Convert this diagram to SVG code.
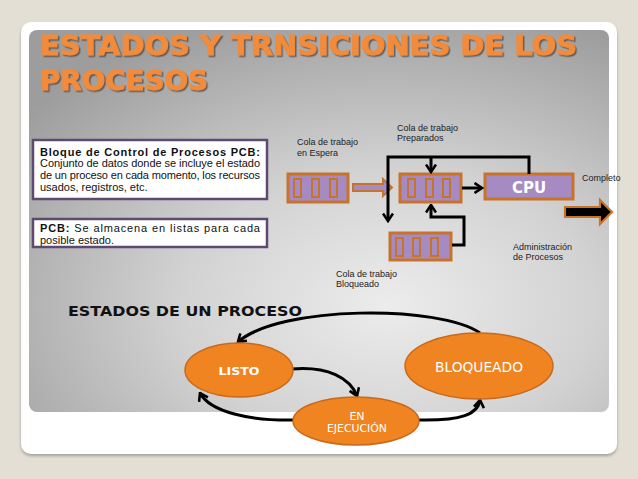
<svg xmlns="http://www.w3.org/2000/svg" width="638" height="479" viewBox="0 0 638 479">
<defs>
<style>
.q{fill:#a68bc2;stroke:#c8732a;stroke-width:3}
.s{fill:#a68bc2;stroke:#c8732a;stroke-width:2}
.lbl{font-family:"Liberation Sans",Arial,sans-serif;font-size:9px;fill:#222}
.box{fill:#fff;stroke:#5e4a70;stroke-width:2.5}
.bt{font-family:"Liberation Sans",Arial,sans-serif;font-size:11px;fill:#111}
.ln{fill:none;stroke:#000;stroke-width:3}
.ell{fill:#ef8421;stroke:#c9691c;stroke-width:1.5}
.et{font-family:"DejaVu Sans",Verdana,sans-serif;fill:#fff;text-anchor:middle}
.title{font-family:"DejaVu Sans",Verdana,sans-serif;font-weight:bold;font-size:27px;fill:#f28b3a;stroke:#f28b3a;stroke-width:0.9}
</style>
<radialGradient id="bg" cx="0.62" cy="0.72" r="0.8">
<stop offset="0" stop-color="#ececec"/>
<stop offset="0.45" stop-color="#d2d2d2"/>
<stop offset="1" stop-color="#9d9d9d"/>
</radialGradient>
<filter id="sh" x="-5%" y="-5%" width="110%" height="110%">
<feDropShadow dx="1.5" dy="1.5" stdDeviation="0.6" flood-color="#4a3a30" flood-opacity="0.7"/>
</filter>
<filter id="fsh" x="-5%" y="-5%" width="110%" height="115%">
<feDropShadow dx="0" dy="2" stdDeviation="1.5" flood-color="#777" flood-opacity="0.6"/>
</filter>
<marker id="ch" viewBox="0 0 10 12" refX="8.5" refY="6" markerWidth="10" markerHeight="12" markerUnits="userSpaceOnUse" orient="auto">
<path d="M1,1 L8.5,6 L1,11" fill="none" stroke="#000" stroke-width="2.6"/>
</marker>
</defs>

<rect width="638" height="479" fill="#e4dfd4"/>
<g id="frame">
<rect x="21" y="22" width="596" height="432" rx="10" fill="#fff" filter="url(#fsh)"/>
<rect x="29" y="30" width="580" height="382" rx="8" fill="url(#bg)"/>
</g>

<g id="title" filter="url(#sh)">
<text class="title" x="40" y="55" textLength="537" lengthAdjust="spacingAndGlyphs">ESTADOS Y TRNSICIONES DE LOS</text>
<text class="title" x="40" y="90" textLength="168" lengthAdjust="spacingAndGlyphs">PROCESOS</text>
</g>

<g id="pcb-box">
<rect class="box" x="33" y="140" width="234" height="59"/>
<text class="bt" x="40" y="155.5" font-weight="bold" textLength="220" lengthAdjust="spacing">Bloque de Control de Procesos PCB:</text>
<text class="bt" x="40" y="167" textLength="220" lengthAdjust="spacing">Conjunto de datos donde se incluye el estado</text>
<text class="bt" x="40" y="179" textLength="220" lengthAdjust="spacing">de un proceso en cada momento, los recursos</text>
<text class="bt" x="40" y="190.5">usados, registros, etc.</text>
</g>

<g id="pcb-box2">
<rect class="box" x="33" y="219" width="234" height="28"/>
<text class="bt" x="40" y="232" textLength="220" lengthAdjust="spacing"><tspan font-weight="bold">PCB:</tspan> Se almacena en listas para cada</text>
<text class="bt" x="40" y="243.5">posible estado.</text>
</g>

<g id="q-espera">
<rect class="q" x="288" y="174" width="60" height="28"/>
<rect class="s" x="294" y="179" width="7" height="18"/>
<rect class="s" x="312" y="179" width="7" height="18"/>
<rect class="s" x="330" y="179" width="7" height="18"/>
<text class="lbl" x="297" y="145">Cola de trabajo</text>
<text class="lbl" x="297" y="156">en Espera</text>
</g>

<g id="q-preparados">
<rect class="q" x="400" y="174" width="61" height="28"/>
<rect class="s" x="408" y="179" width="7" height="18"/>
<rect class="s" x="426" y="179" width="7" height="18"/>
<rect class="s" x="443" y="179" width="7" height="18"/>
<text class="lbl" x="397" y="131">Cola de trabajo</text>
<text class="lbl" x="397" y="141">Preparados</text>
</g>

<g id="q-bloqueado">
<rect class="q" x="390" y="233" width="61" height="27"/>
<rect class="s" x="396" y="238" width="7" height="18"/>
<rect class="s" x="413" y="238" width="7" height="18"/>
<rect class="s" x="431" y="238" width="7" height="18"/>
<text class="lbl" x="336" y="277">Cola de trabajo</text>
<text class="lbl" x="336" y="287">Bloqueado</text>
</g>

<g id="cpu">
<rect class="q" x="485" y="174" width="88" height="25"/>
<text x="529" y="192.5" text-anchor="middle" font-family="DejaVu Sans,Verdana,sans-serif" font-weight="bold" font-size="15" fill="#fff">CPU</text>
</g>

<g id="labels">
<text class="lbl" x="582" y="181">Completo</text>
<text class="lbl" x="513" y="250">Administración</text>
<text class="lbl" x="513" y="260">de Procesos</text>
</g>

<g id="connectors">
<path d="M353,184 H383 V179 L392,187.5 L383,196 V191 H353 Z" fill="#a68bc2" stroke="#c8732a" stroke-width="2"/>
<path d="M565,207 H600 V200 L612,212 L600,224 V217 H565 Z" fill="#000" stroke="#c8732a" stroke-width="2.2"/>
<path class="ln" d="M462,188 H482" marker-end="url(#ch)"/>
<path class="ln" d="M529,174 V157 H388 V221" marker-end="url(#ch)"/>
<path class="ln" d="M431,157 V172" marker-end="url(#ch)"/>
<path class="ln" d="M452,245 H464 V217 H431 V205" marker-end="url(#ch)"/>
<path class="ln" d="M480,333 C440,305 280,305 238,342" marker-end="url(#ch)"/>
<path class="ln" d="M292,369 C328,366 350,378 357,396" marker-end="url(#ch)"/>
<path class="ln" d="M295,420 C250,421 210,412 200,393" marker-end="url(#ch)"/>
<path class="ln" d="M418,420 C462,421 478,414 480,400" marker-end="url(#ch)"/>
</g>

<text x="68" y="315.5" font-family="DejaVu Sans,Verdana,sans-serif" font-weight="bold" font-size="14" fill="#111" textLength="234" lengthAdjust="spacingAndGlyphs">ESTADOS DE UN PROCESO</text>

<g id="listo">
<ellipse class="ell" cx="239" cy="370" rx="54" ry="27"/>
<text class="et" x="239" y="375" font-weight="bold" font-size="11" textLength="41" lengthAdjust="spacingAndGlyphs">LISTO</text>
</g>
<g id="bloqueado">
<ellipse class="ell" cx="479" cy="366" rx="74" ry="33"/>
<text class="et" x="479" y="372" font-size="14" textLength="88" lengthAdjust="spacingAndGlyphs">BLOQUEADO</text>
</g>
<g id="ejecucion">
<ellipse class="ell" cx="356" cy="421" rx="63" ry="24"/>
<text class="et" x="357" y="420" font-size="11">EN</text>
<text class="et" x="357" y="432" font-size="11" textLength="60" lengthAdjust="spacingAndGlyphs">EJECUCIÓN</text>
</g>
</svg>
